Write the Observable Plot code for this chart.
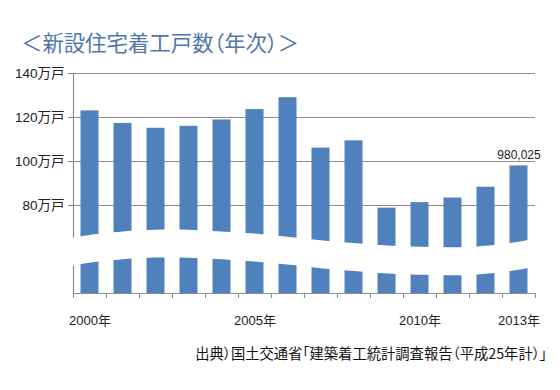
<!DOCTYPE html>
<html><head><meta charset="utf-8">
<script src="https://cdn.jsdelivr.net/npm/d3@7"></script>
<script src="https://cdn.jsdelivr.net/npm/@observablehq/plot@0.6"></script>
<style>
body{margin:0;background:#fff;}
#wrap{position:relative;width:560px;height:390px;overflow:hidden;background:#fff;}
#title{position:absolute;left:21px;top:27px;font-size:21.4px;font-family:"Noto Sans CJK JP",sans-serif;color:#4e76ab;font-feature-settings:"palt";line-height:30px;white-space:nowrap;}
#caption{position:absolute;right:13px;top:343px;font-size:14.3px;font-family:"Noto Sans CJK JP",sans-serif;font-feature-settings:"palt";color:#111;line-height:20px;white-space:nowrap;}
#chart{position:absolute;left:0;top:0;}
</style>
</head><body>
<div id="wrap">
  <div id="chart"></div>
  <div id="title">＜新設住宅着工戸数（年次）＞</div>
  <div id="caption">出典）国土交通省「建築着工統計調査報告（平成25年計）」</div>
</div>
<script>
// data (万戸)
const years = [2000,2001,2002,2003,2004,2005,2006,2007,2008,2009,2010,2011,2012,2013];
const starts = [123.0,117.3,115.1,116.0,118.9,123.6,129.0,106.1,109.4,78.8,81.3,83.4,88.3,98.0];
const yTicks = [80,100,120,140];
const yearLabels = [2000,2005,2010,2013];
const lastLabel = "980,025";
// axis-break wave (decoration, in value units)
const breakX   = [1999.2,1999.5,2000,2001,2002,2003,2004,2005,2006,2007,2008,2009,2010,2011,2012,2013,2013.5,2013.8];
const breakTop = [64.5,65.1,66.4,68.0,68.8,68.7,68.0,67.0,65.6,64.0,62.7,61.6,61.0,60.8,61.5,63.3,64.8,65.6];
const breakGap = 12.7;

const data = years.map((y,i)=>({year:y, value:starts[i]}));
const wave = breakX.map((x,i)=>({x, top:breakTop[i], bottom:breakTop[i]-breakGap}));
const boundaries = d3.range(years.length+1).map(i=>years[0]-0.5+i);
const base = 40;

const chart = Plot.plot({
  width:560, height:390,
  marginLeft:73, marginRight:25, marginTop:73, marginBottom:97,
  x:{domain:[years[0]-0.5, years[years.length-1]+0.5], axis:null},
  y:{domain:[base,140], axis:null},
  style:{fontFamily:'"Liberation Sans","Noto Sans CJK JP",sans-serif', fontSize:"13px", color:"#222", background:"transparent"},
  marks:[
    Plot.ruleY(yTicks, {x1:boundaries[0], x2:boundaries[boundaries.length-1], stroke:"#8c8c8c", strokeWidth:1.2}),
    Plot.rectY(data, {x1:d=>d.year-0.273, x2:d=>d.year+0.273, y1:base, y2:"value", fill:"#4f81bd"}),
    Plot.ruleX([boundaries[0]], {y1:base, y2:140, stroke:"#8c8c8c", strokeWidth:1.2}),
    Plot.ruleY([base], {x1:boundaries[0], x2:boundaries[boundaries.length-1], stroke:"#8c8c8c", strokeWidth:1.2}),
    Plot.axisY(yTicks, {tickSize:5, tickPadding:4, tickFormat:d=>d+"万戸", stroke:"#8c8c8c", fill:"#222", fontSize:13.5}),
    Plot.axisX(boundaries, {tickSize:5, tickFormat:()=>"", stroke:"#8c8c8c"}),
    Plot.areaY(wave, {x:"x", y1:"bottom", y2:"top", fill:"white", curve:"natural"}),
    Plot.axisX(yearLabels, {tickSize:0, tickPadding:22, tickFormat:d=>d+"年", fill:"#222", fontSize:13}),
    Plot.text([data[data.length-1]], {x:"year", y:"value", text:()=>lastLabel, dy:-11, fontSize:12, fill:"#222"})
  ]
});
document.getElementById("chart").appendChild(chart);
</script>
</body></html>
